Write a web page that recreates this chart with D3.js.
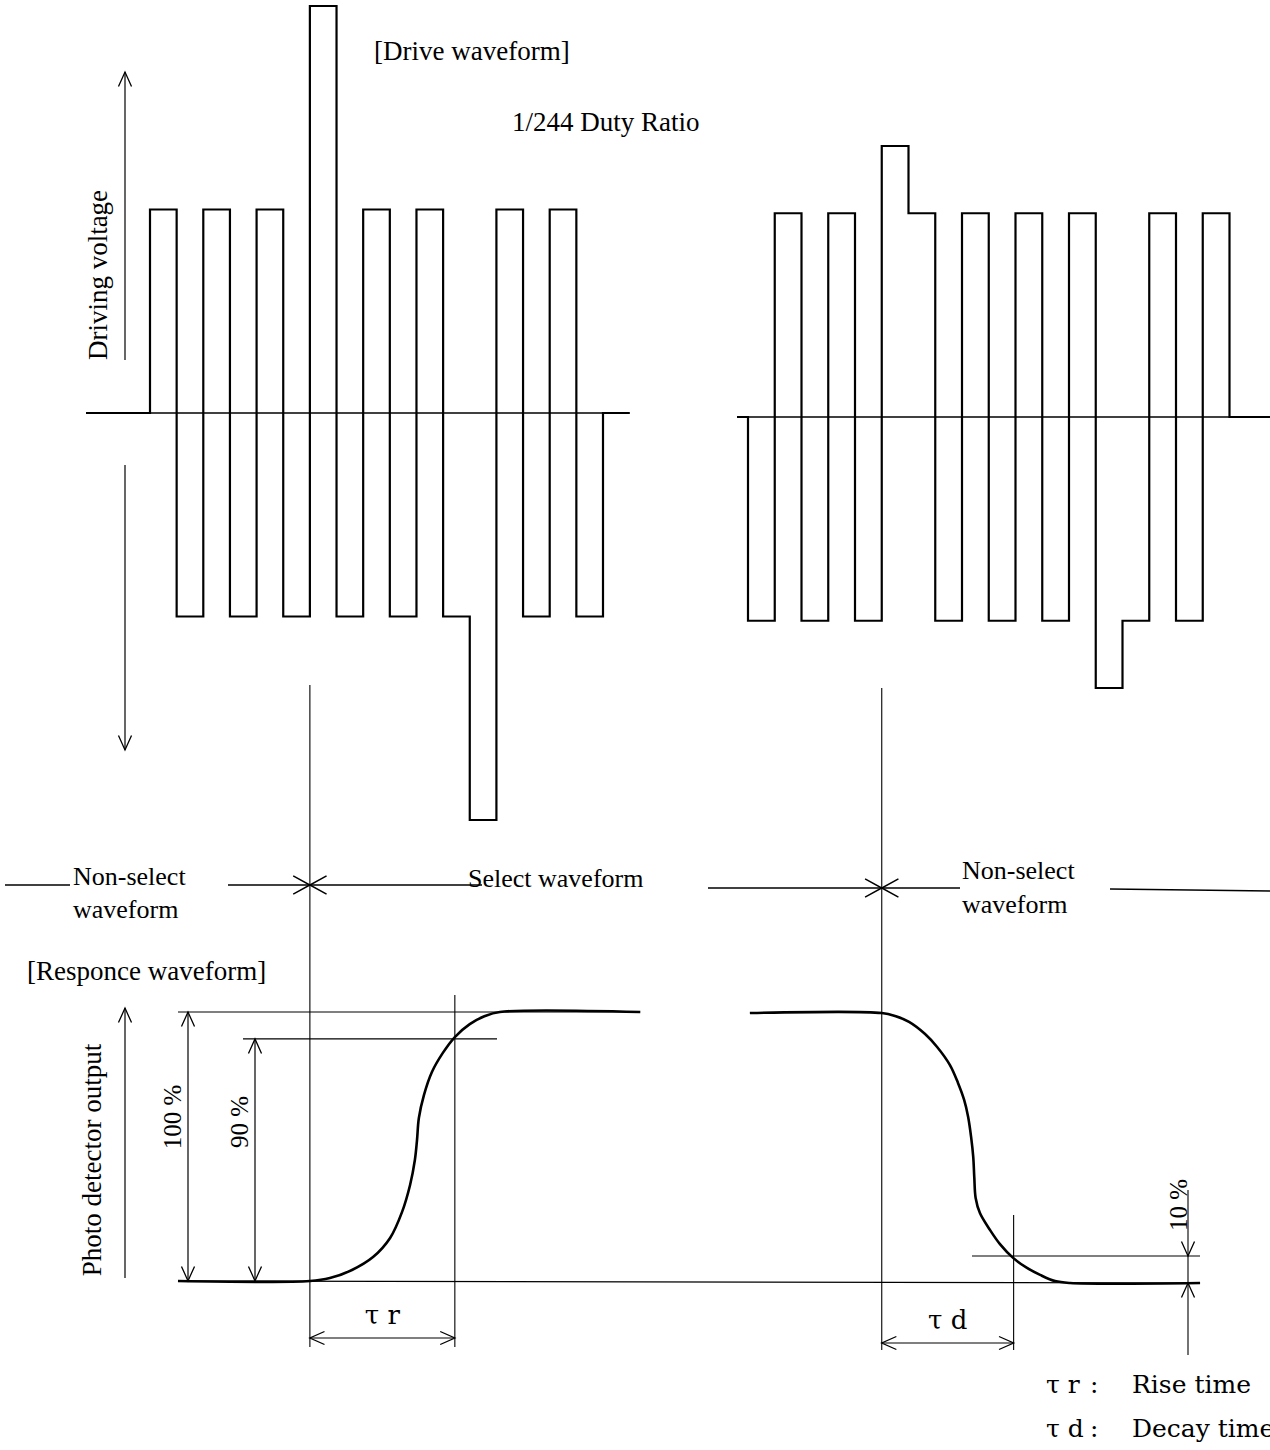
<!DOCTYPE html>
<html><head><meta charset="utf-8">
<script src="https://cdn.jsdelivr.net/npm/d3@7"></script>
<style>
body{margin:0;background:#fff}
text{font-family:"Liberation Serif","Times New Roman",serif;fill:#000}
</style>
</head><body>
<svg id="c" width="1270" height="1450"></svg>
<script>
// ---------- data ----------
// drive waveform levels per half-period (1 = normal pulse, 2 / 1.33 = select pulse)
const leftLevels  = [1,-1,1,-1,1,-1,2,-1,1,-1,1,-1,-2,1,-1,1,-1];
const rightLevels = [-1,1,-1,1,-1,1.33,1,-1,1,-1,1,-1,1,-1.33,-1,1,-1,1];
// response curves: [time offset in half-periods, photo detector output %]
const riseCurve  = [[-4.95,0],[0,0],[0.75,1.1],[1.58,4.1],[2.37,8.9],[3.01,16],[3.46,25.7],[3.76,35.7],[3.94,45],[4.02,52.4],[4.09,60.6],[4.28,69.1],[4.58,77.7],[4.99,84.8],[5.44,90.7],[6.0,95.5],[6.57,98.5],[7.13,100],[12.4,100]];
const decayCurve = [[-4.93,100],[0,100],[0.5,98.9],[1.02,96.7],[1.62,92.2],[2.07,87.4],[2.55,80.7],[2.85,74.1],[3.08,67.8],[3.23,61.5],[3.34,54.1],[3.42,46.7],[3.46,39],[3.51,31.5],[3.67,25.9],[4.05,19.6],[4.42,14.4],[4.91,9.3],[5.43,5.6],[5.92,3.0],[6.48,0.7],[7.04,0],[11.9,0]];
const riseTime  = 5.44;
const decayTime = 4.93;
const pctLevels = [100, 90, 10];
const legendKeys  = ["τ r", "τ d"];
const legendNames = ["Rise time", "Decay time"];

// ---------- setup ----------
const svg = d3.select("#c");
const xL = d3.scaleLinear().domain([0,17]).range([150,603]);
const xR = d3.scaleLinear().domain([0,18]).range([748,1229.5]);
const yL = d3.scaleLinear().domain([-2,2]).range([820,6]);
const yR = d3.scaleLinear().domain([-1.33,1.33]).range([688,146]);
const yP = d3.scaleLinear().domain([0,100]).range([1281,1012]);
const yP2 = d3.scaleLinear().domain([0,100]).range([1283,1013]);

function ln(x1,y1,x2,y2,w){
  svg.append("line").attr("x1",x1).attr("y1",y1).attr("x2",x2).attr("y2",y2)
    .attr("stroke","#000").attr("stroke-width",w||1.3);
}
function arrow(x,y,ang,len,spread,w){
  len=len||16; spread=spread||0.42;
  const pts=[ang+Math.PI-spread, ang+Math.PI+spread].map(a=>[x+len*Math.cos(a), y+len*Math.sin(a)]);
  svg.append("path").attr("d",`M${pts[0][0]},${pts[0][1]}L${x},${y}L${pts[1][0]},${pts[1][1]}`)
    .attr("fill","none").attr("stroke","#000").attr("stroke-width",w||1.3);
}
function txt(x,y,s,size,opts){
  opts=opts||{};
  const t=svg.append("text").attr("x",x).attr("y",y).text(s).attr("font-size",size||27);
  if(opts.anchor) t.attr("text-anchor",opts.anchor);
  if(opts.family) t.style("font-family",opts.family);
  return t;
}
function rtxt(cx,by,s,size){
  svg.append("text").attr("transform",`translate(${cx},${by}) rotate(-90)`)
    .attr("text-anchor","middle").attr("font-size",size||27).text(s);
}
const UP=-Math.PI/2, DOWN=Math.PI/2, LEFT=Math.PI, RIGHT=0;
const TAU_FONT = "'DejaVu Serif',serif";

// ---------- drive waveforms ----------
ln(xL(-2.4), yL(0), xL(18), yL(0), 1.4);
ln(xR(-0.41), yR(0), 1270, yR(0), 1.4);

const stepLine = (xs,ys)=>d3.line().x(d=>xs(d[0])).y(d=>ys(d[1])).curve(d3.curveStepAfter);
const lpts = [[-2.4,0]].concat(leftLevels.map((v,i)=>[i,v])).concat([[17,0],[18,0]]);
const rpts = [[-0.41,0]].concat(rightLevels.map((v,i)=>[i,v])).concat([[18,0],[19.6,0]]);
svg.append("path").attr("d",stepLine(xL,yL)(lpts)).attr("fill","none").attr("stroke","#000").attr("stroke-width",2.2);
svg.append("path").attr("d",stepLine(xR,yR)(rpts)).attr("fill","none").attr("stroke","#000").attr("stroke-width",2.2);

// driving voltage axis arrows
ln(125,360,125,72,1.2); arrow(125,72,UP);
ln(125,465,125,750,1.2); arrow(125,750,DOWN);
rtxt(107,275,"Driving voltage",27);

txt(374,60,"[Drive waveform]",27);
txt(512,131,"1/244 Duty Ratio",27);

// ---------- select / non-select markers ----------
const selStart = xL(6), selEnd = xR(5);
ln(selStart,685,selStart,1347,1.1);
ln(selEnd,688,selEnd,1350,1.1);

ln(5,885,70,885,1.4);
txt(73,885,"Non-select",26);
txt(73,918,"waveform",26);
ln(228,885,482,885,1.4);
arrow(selStart,885,RIGHT,19,0.5,1.5); arrow(selStart,885,LEFT,19,0.5,1.5);
txt(468,887,"Select waveform",26);

ln(708,888,960,888,1.4);
arrow(selEnd,888,RIGHT,19,0.5,1.5); arrow(selEnd,888,LEFT,19,0.5,1.5);
txt(962,879,"Non-select",26);
txt(962,913,"waveform",26);
ln(1110,889,1270,891,1.4);

// ---------- response waveform ----------
txt(27,980,"[Responce waveform]",27);
ln(125,1278,125,1008,1.2); arrow(125,1008,UP);
rtxt(101,1160,"Photo detector output",27);

// reference lines
ln(178,yP(100),640,yP(100),1.2);
ln(243,yP(90),497,yP(90),1.2);
ln(178,yP(0),1200,yP2(0),1.2);
ln(972,yP2(10),1200,yP2(10),1.2);

const curve = d3.line().curve(d3.curveCatmullRom.alpha(0.5));
svg.append("path").attr("d",curve(riseCurve.map(d=>[xL(6+d[0]),yP(d[1])])))
  .attr("fill","none").attr("stroke","#000").attr("stroke-width",2.6);
svg.append("path").attr("d",curve(decayCurve.map(d=>[xR(5+d[0]),yP2(d[1])])))
  .attr("fill","none").attr("stroke","#000").attr("stroke-width",2.6);

// 100 % / 90 % dimensions
ln(188,yP(100),188,yP(0),1.2); arrow(188,yP(100),UP); arrow(188,yP(0),DOWN);
rtxt(181,1117,"100 %",25);
ln(255,yP(90),255,yP(0),1.2); arrow(255,yP(90),UP); arrow(255,yP(0),DOWN);
rtxt(248,1122,"90 %",25);

// rise / decay time dimensions
const rEnd = xL(6+riseTime), dEnd = xR(5+decayTime);
ln(rEnd,995,rEnd,1347,1.1);
ln(dEnd,1215,dEnd,1350,1.1);
ln(selStart,1338,rEnd,1338,1.2); arrow(selStart,1338,LEFT); arrow(rEnd,1338,RIGHT);
txt((selStart+rEnd)/2,1324,"τ r",26,{anchor:"middle",family:TAU_FONT});
ln(selEnd,1343,dEnd,1343,1.2); arrow(selEnd,1343,LEFT); arrow(dEnd,1343,RIGHT);
txt((selEnd+dEnd)/2,1329,"τ d",26,{anchor:"middle",family:TAU_FONT});

// 10 % dimension
ln(1188,1190,1188,1355,1.1);
arrow(1188,yP2(10),DOWN); arrow(1188,yP2(0),UP);
rtxt(1187,1205,"10 %",25);

// legend
legendKeys.forEach((k,i)=>{
  txt(1046,1393+i*44,k,25,{family:TAU_FONT});
  txt(1090,1393+i*44,":",25,{family:TAU_FONT});
  txt(1132,1393+i*44,legendNames[i],25,{family:TAU_FONT});
});
</script>
</body></html>
